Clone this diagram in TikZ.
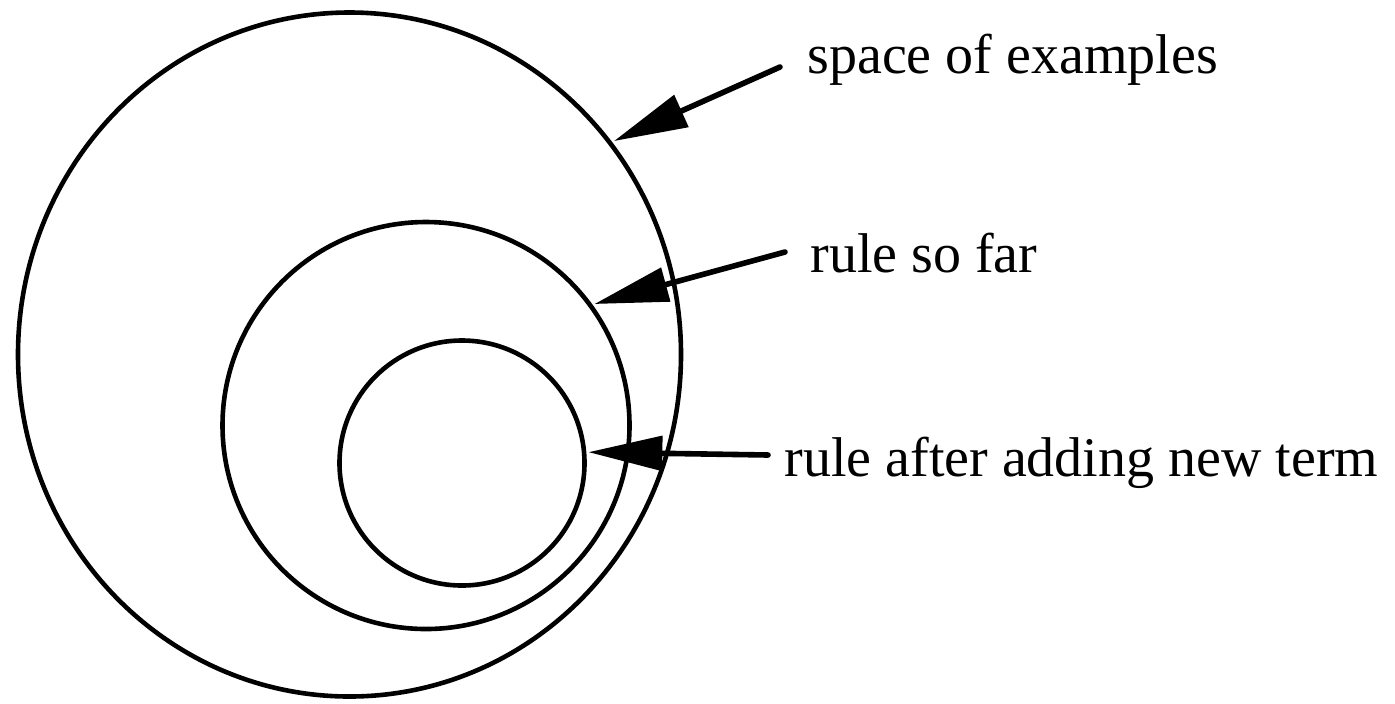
\documentclass[tikz,border=0pt]{standalone}
\usepackage{fontspec}
\setmainfont{Liberation Serif}
\usetikzlibrary{arrows.meta,shapes.geometric}
\begin{document}
\begin{tikzpicture}[x=0.5pt,y=-0.5pt,
    ring/.style={draw,line width=2.3pt,inner sep=0pt},
    pointer/.style={line width=2.8pt,line cap=round,
        -{Triangle[length=37pt,width=17pt]},shorten >=1pt},
    caption/.style={anchor=base west,inner sep=0pt,
        font=\fontsize{28pt}{34pt}\selectfont}]
    \useasboundingbox (0,0) rectangle (1395,703);
    % nested regions
    \node[ring,ellipse,minimum width=331.5pt,minimum height=342pt] (examples) at (349.5,354.5) {};
    \node[ring,circle,minimum size=203.5pt] (sofar) at (426,425.5) {};
    \node[ring,circle,minimum size=122.5pt] (newterm) at (462,463) {};
    % captions
    \node[caption] (lblexamples) at (807,73) {space of examples};
    \node[caption] (lblsofar) at (810,272) {rule so far};
    \node[caption] (lblnewterm) at (784,476) {rule after adding new term};
    % arrow tails
    \coordinate (tailexamples) at (780,67);
    \coordinate (tailsofar) at (785,252);
    \coordinate (tailnewterm) at (768,455);
    % pointers
    \draw[pointer] (tailexamples) -- (examples.39);
    \draw[pointer] (tailsofar) -- (sofar.36);
    \draw[pointer] (tailnewterm) -- (newterm.5);
\end{tikzpicture}
\end{document}
